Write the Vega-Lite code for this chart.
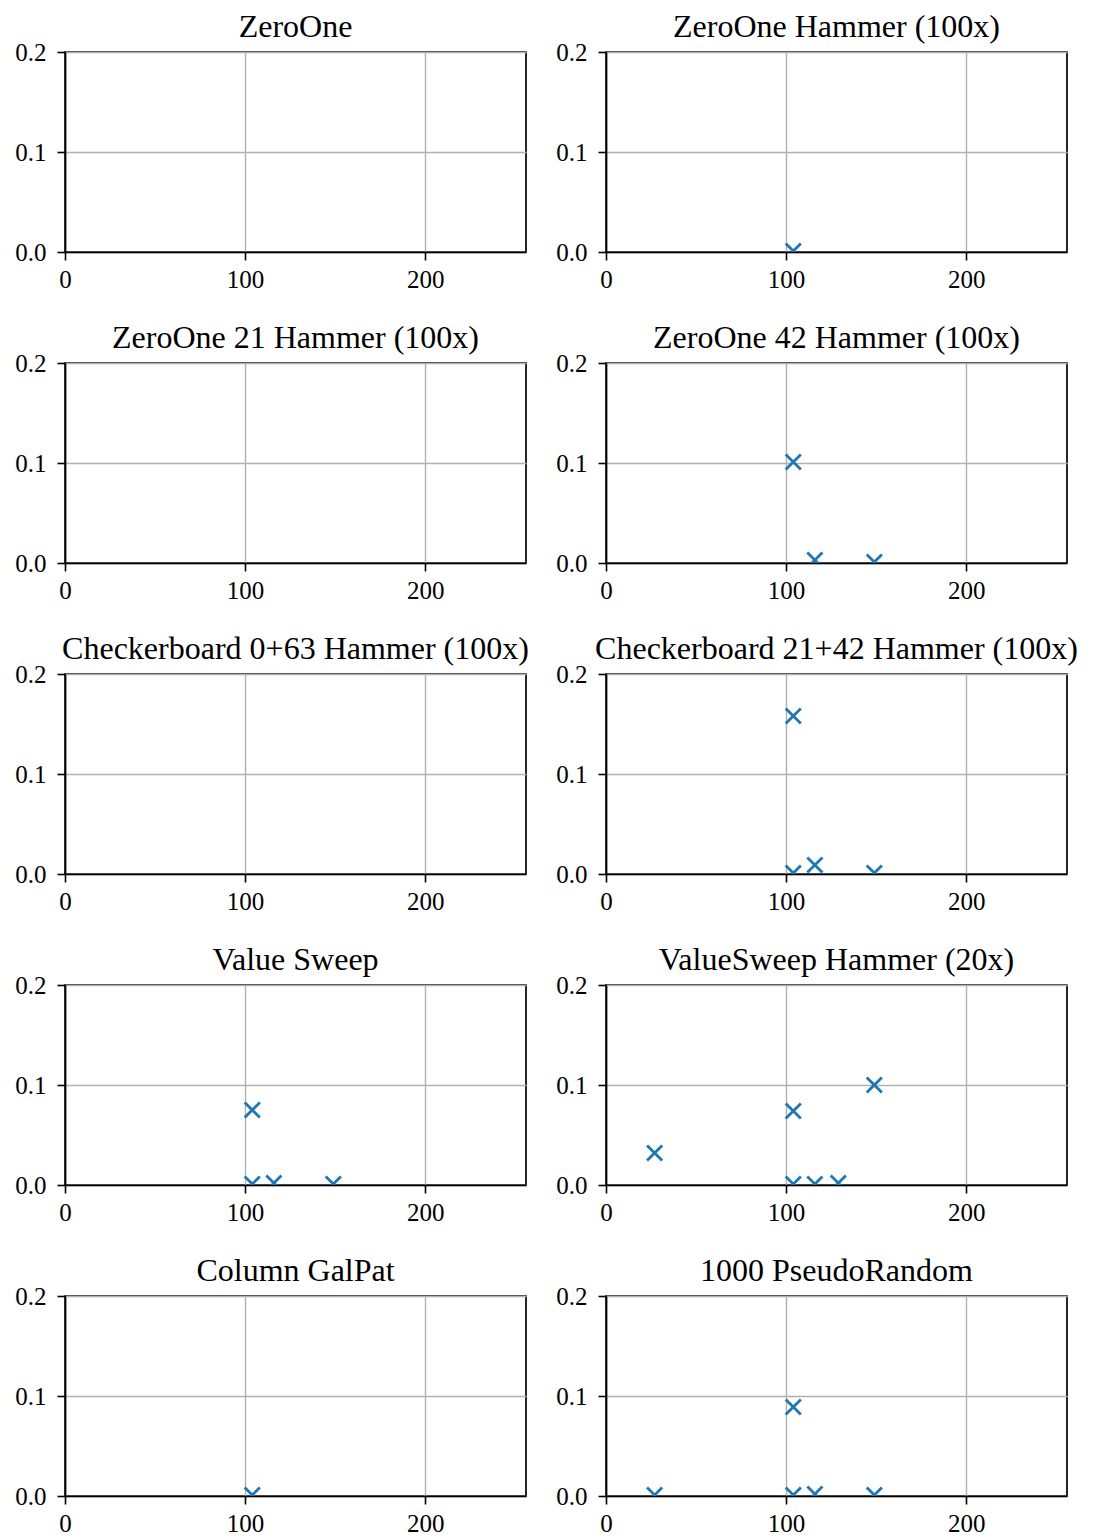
{
  "$schema": "https://vega.github.io/schema/vega-lite/v6.json",
  "background": "white",
  "padding": {"left": 13, "top": 10, "right": 5, "bottom": 5},
  "data": {"values": [
    {"panel": "ZeroOne Hammer (100x)", "x": 104, "y": 0.001},
    {"panel": "ZeroOne 42 Hammer (100x)", "x": 104, "y": 0.101},
    {"panel": "ZeroOne 42 Hammer (100x)", "x": 116, "y": 0.003},
    {"panel": "ZeroOne 42 Hammer (100x)", "x": 149, "y": 0.001},
    {"panel": "Checkerboard 21+42 Hammer (100x)", "x": 104, "y": 0.158},
    {"panel": "Checkerboard 21+42 Hammer (100x)", "x": 104, "y": 0.001},
    {"panel": "Checkerboard 21+42 Hammer (100x)", "x": 116, "y": 0.009},
    {"panel": "Checkerboard 21+42 Hammer (100x)", "x": 149, "y": 0.001},
    {"panel": "Value Sweep", "x": 104, "y": 0.075},
    {"panel": "Value Sweep", "x": 104, "y": 0.001},
    {"panel": "Value Sweep", "x": 116, "y": 0.002},
    {"panel": "Value Sweep", "x": 149, "y": 0.001},
    {"panel": "ValueSweep Hammer (20x)", "x": 27, "y": 0.032},
    {"panel": "ValueSweep Hammer (20x)", "x": 104, "y": 0.074},
    {"panel": "ValueSweep Hammer (20x)", "x": 104, "y": 0.001},
    {"panel": "ValueSweep Hammer (20x)", "x": 116, "y": 0.001},
    {"panel": "ValueSweep Hammer (20x)", "x": 129, "y": 0.002},
    {"panel": "ValueSweep Hammer (20x)", "x": 149, "y": 0.1},
    {"panel": "Column GalPat", "x": 104, "y": 0.001},
    {"panel": "1000 PseudoRandom", "x": 27, "y": 0.001},
    {"panel": "1000 PseudoRandom", "x": 104, "y": 0.089},
    {"panel": "1000 PseudoRandom", "x": 104, "y": 0.001},
    {"panel": "1000 PseudoRandom", "x": 116, "y": 0.002},
    {"panel": "1000 PseudoRandom", "x": 149, "y": 0.001}
  ]},
  "columns": 2,
  "bounds": "flush",
  "spacing": {"row": 111, "column": 80},
  "concat": [
    {"title": "ZeroOne", "transform": [{"filter": "datum.panel === 'ZeroOne'"}], "mark": {"type": "point", "shape": "M-1,-1L1,1M-1,1L1,-1", "filled": false, "strokeWidth": 2.8, "size": 230, "color": "#1f77b4", "opacity": 1, "clip": true}, "encoding": {"x": {"field": "x", "type": "quantitative", "scale": {"domain": [0, 256], "nice": false}, "axis": {"values": [0, 100, 200]}, "title": null}, "y": {"field": "y", "type": "quantitative", "scale": {"domain": [0, 0.2], "nice": false}, "axis": {"values": [0, 0.1, 0.2], "format": ".1f"}, "title": null}}},
    {"title": "ZeroOne Hammer (100x)", "transform": [{"filter": "datum.panel === 'ZeroOne Hammer (100x)'"}], "mark": {"type": "point", "shape": "M-1,-1L1,1M-1,1L1,-1", "filled": false, "strokeWidth": 2.8, "size": 230, "color": "#1f77b4", "opacity": 1, "clip": true}, "encoding": {"x": {"field": "x", "type": "quantitative", "scale": {"domain": [0, 256], "nice": false}, "axis": {"values": [0, 100, 200]}, "title": null}, "y": {"field": "y", "type": "quantitative", "scale": {"domain": [0, 0.2], "nice": false}, "axis": {"values": [0, 0.1, 0.2], "format": ".1f"}, "title": null}}},
    {"title": "ZeroOne 21 Hammer (100x)", "transform": [{"filter": "datum.panel === 'ZeroOne 21 Hammer (100x)'"}], "mark": {"type": "point", "shape": "M-1,-1L1,1M-1,1L1,-1", "filled": false, "strokeWidth": 2.8, "size": 230, "color": "#1f77b4", "opacity": 1, "clip": true}, "encoding": {"x": {"field": "x", "type": "quantitative", "scale": {"domain": [0, 256], "nice": false}, "axis": {"values": [0, 100, 200]}, "title": null}, "y": {"field": "y", "type": "quantitative", "scale": {"domain": [0, 0.2], "nice": false}, "axis": {"values": [0, 0.1, 0.2], "format": ".1f"}, "title": null}}},
    {"title": "ZeroOne 42 Hammer (100x)", "transform": [{"filter": "datum.panel === 'ZeroOne 42 Hammer (100x)'"}], "mark": {"type": "point", "shape": "M-1,-1L1,1M-1,1L1,-1", "filled": false, "strokeWidth": 2.8, "size": 230, "color": "#1f77b4", "opacity": 1, "clip": true}, "encoding": {"x": {"field": "x", "type": "quantitative", "scale": {"domain": [0, 256], "nice": false}, "axis": {"values": [0, 100, 200]}, "title": null}, "y": {"field": "y", "type": "quantitative", "scale": {"domain": [0, 0.2], "nice": false}, "axis": {"values": [0, 0.1, 0.2], "format": ".1f"}, "title": null}}},
    {"title": "Checkerboard 0+63 Hammer (100x)", "transform": [{"filter": "datum.panel === 'Checkerboard 0+63 Hammer (100x)'"}], "mark": {"type": "point", "shape": "M-1,-1L1,1M-1,1L1,-1", "filled": false, "strokeWidth": 2.8, "size": 230, "color": "#1f77b4", "opacity": 1, "clip": true}, "encoding": {"x": {"field": "x", "type": "quantitative", "scale": {"domain": [0, 256], "nice": false}, "axis": {"values": [0, 100, 200]}, "title": null}, "y": {"field": "y", "type": "quantitative", "scale": {"domain": [0, 0.2], "nice": false}, "axis": {"values": [0, 0.1, 0.2], "format": ".1f"}, "title": null}}},
    {"title": "Checkerboard 21+42 Hammer (100x)", "transform": [{"filter": "datum.panel === 'Checkerboard 21+42 Hammer (100x)'"}], "mark": {"type": "point", "shape": "M-1,-1L1,1M-1,1L1,-1", "filled": false, "strokeWidth": 2.8, "size": 230, "color": "#1f77b4", "opacity": 1, "clip": true}, "encoding": {"x": {"field": "x", "type": "quantitative", "scale": {"domain": [0, 256], "nice": false}, "axis": {"values": [0, 100, 200]}, "title": null}, "y": {"field": "y", "type": "quantitative", "scale": {"domain": [0, 0.2], "nice": false}, "axis": {"values": [0, 0.1, 0.2], "format": ".1f"}, "title": null}}},
    {"title": "Value Sweep", "transform": [{"filter": "datum.panel === 'Value Sweep'"}], "mark": {"type": "point", "shape": "M-1,-1L1,1M-1,1L1,-1", "filled": false, "strokeWidth": 2.8, "size": 230, "color": "#1f77b4", "opacity": 1, "clip": true}, "encoding": {"x": {"field": "x", "type": "quantitative", "scale": {"domain": [0, 256], "nice": false}, "axis": {"values": [0, 100, 200]}, "title": null}, "y": {"field": "y", "type": "quantitative", "scale": {"domain": [0, 0.2], "nice": false}, "axis": {"values": [0, 0.1, 0.2], "format": ".1f"}, "title": null}}},
    {"title": "ValueSweep Hammer (20x)", "transform": [{"filter": "datum.panel === 'ValueSweep Hammer (20x)'"}], "mark": {"type": "point", "shape": "M-1,-1L1,1M-1,1L1,-1", "filled": false, "strokeWidth": 2.8, "size": 230, "color": "#1f77b4", "opacity": 1, "clip": true}, "encoding": {"x": {"field": "x", "type": "quantitative", "scale": {"domain": [0, 256], "nice": false}, "axis": {"values": [0, 100, 200]}, "title": null}, "y": {"field": "y", "type": "quantitative", "scale": {"domain": [0, 0.2], "nice": false}, "axis": {"values": [0, 0.1, 0.2], "format": ".1f"}, "title": null}}},
    {"title": "Column GalPat", "transform": [{"filter": "datum.panel === 'Column GalPat'"}], "mark": {"type": "point", "shape": "M-1,-1L1,1M-1,1L1,-1", "filled": false, "strokeWidth": 2.8, "size": 230, "color": "#1f77b4", "opacity": 1, "clip": true}, "encoding": {"x": {"field": "x", "type": "quantitative", "scale": {"domain": [0, 256], "nice": false}, "axis": {"values": [0, 100, 200]}, "title": null}, "y": {"field": "y", "type": "quantitative", "scale": {"domain": [0, 0.2], "nice": false}, "axis": {"values": [0, 0.1, 0.2], "format": ".1f"}, "title": null}}},
    {"title": "1000 PseudoRandom", "transform": [{"filter": "datum.panel === '1000 PseudoRandom'"}], "mark": {"type": "point", "shape": "M-1,-1L1,1M-1,1L1,-1", "filled": false, "strokeWidth": 2.8, "size": 230, "color": "#1f77b4", "opacity": 1, "clip": true}, "encoding": {"x": {"field": "x", "type": "quantitative", "scale": {"domain": [0, 256], "nice": false}, "axis": {"values": [0, 100, 200]}, "title": null}, "y": {"field": "y", "type": "quantitative", "scale": {"domain": [0, 0.2], "nice": false}, "axis": {"values": [0, 0.1, 0.2], "format": ".1f"}, "title": null}}}
  ],
  "config": {
    "view": {"continuousWidth": 461, "continuousHeight": 200, "stroke": "black", "strokeWidth": 1.7},
    "font": "Liberation Serif",
    "title": {"font": "Liberation Serif", "fontSize": 32, "fontWeight": "normal", "color": "black", "anchor": "middle", "offset": -4},
    "axis": {"labelFont": "Liberation Serif", "labelFontSize": 25, "labelColor": "black", "domainColor": "black", "domainWidth": 1.7, "tickColor": "black", "tickWidth": 1.6, "tickSize": 8, "grid": true, "gridColor": "#b0b0b0", "gridWidth": 1.4, "labelFlush": false, "labelOverlap": false},
    "axisX": {"labelPadding": 7},
    "axisY": {"labelPadding": 11}
  }
}
